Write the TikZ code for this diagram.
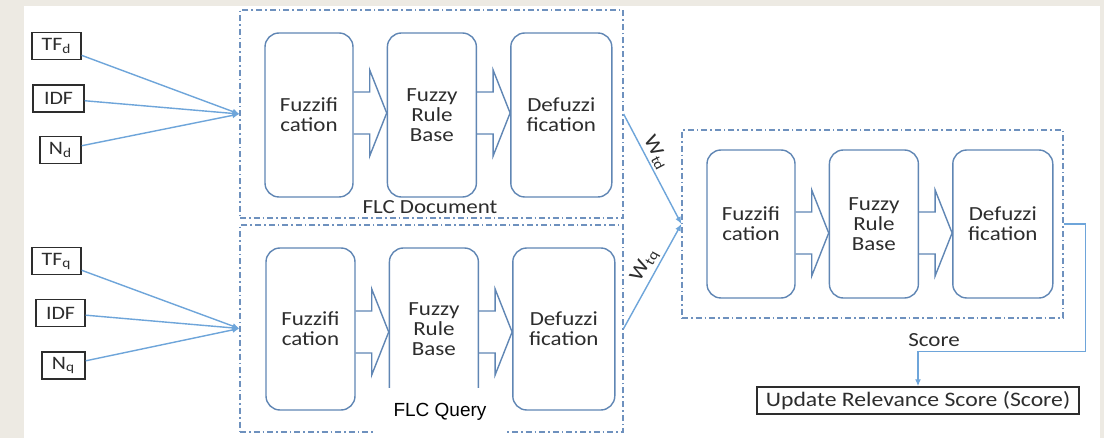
\documentclass[tikz,border=0pt]{standalone}
\usepackage{fontspec}
\setmainfont{Carlito}[FakeStretch=1.15]
\newfontfamily\queryfont{Liberation Sans}
\usetikzlibrary{positioning, arrows.meta, calc}

\definecolor{pagebeige}{RGB}{237,234,227}
\definecolor{stageblue}{RGB}{96,134,180}
\definecolor{wireblue}{RGB}{110,165,218}
\definecolor{groupblue}{RGB}{110,145,190}
\definecolor{inkgray}{RGB}{45,45,45}

% open block arrow from node #1 to node #2, axis shifted by #3
\newcommand{\blockarr}[3]{%
  \draw[blockline] ($(#1.east)+(0,#3-21)$) -- ($(#2.west)+(-17,#3-21)$)
    -- ($(#2.west)+(-17,#3-43)$) -- ($(#2.west)+(0,#3)$)
    -- ($(#2.west)+(-17,#3+43)$) -- ($(#2.west)+(-17,#3+21)$)
    -- ($(#1.east)+(0,#3+21)$);}

\begin{document}
\begin{tikzpicture}[
    x=0.5pt, y=-0.5pt,
    node distance=16.5pt,
    stage/.style={rectangle, rounded corners=7pt, draw=stageblue, line width=0.7pt, align=center, font=\fontsize{10}{10}\selectfont, text=inkgray, inner sep=0pt},
    inputbox/.style={rectangle, draw=inkgray, line width=0.7pt, font=\fontsize{9.5}{10}\selectfont, text=inkgray, minimum height=13.5pt, inner sep=0pt},
    flcbox/.style={rectangle, draw=groupblue, line width=0.6pt, dash pattern=on 3pt off 1.5pt on 0.8pt off 1.5pt, inner sep=0pt},
    blockline/.style={draw=stageblue, line width=0.7pt},
    wire/.style={draw=wireblue, line width=0.7pt},
    arrow/.style={wire, -{Latex[length=3.5pt, width=3pt]}},
    lbl/.style={font=\fontsize{10}{10}\selectfont, text=inkgray, inner sep=1pt}
  ]
    \useasboundingbox (0,0) rectangle (1104,438);
    \fill[pagebeige] (0,0) rectangle (1104,438);
    \fill[white] (24,6) rectangle (1100,438);

    % Group frames
    \node[flcbox, minimum width=191.5pt, minimum height=104pt] (flcdoc) at (431.5,114) {};
    \node[flcbox, minimum width=191.5pt, minimum height=103.5pt] (flcqry) at (431.5,328.5) {};
    \node[flcbox, minimum width=190.5pt, minimum height=94pt] (flcres) at (872.5,224) {};

    % FLC Document
    \node[stage, minimum width=44pt, minimum height=82pt] (fuzd) at (309,115) {Fuzzifi\\cation};
    \node[stage, minimum width=44.5pt, minimum height=82pt, right=of fuzd] (ruled) {Fuzzy\\Rule\\Base};
    \node[stage, minimum width=50.5pt, minimum height=82pt, right=of ruled] (defd) {Defuzzi\\fication};
    \node[lbl] (doclbl) at (430,207) {FLC Document};

    % FLC Query
    \node[stage, minimum width=44.5pt, minimum height=81pt] (fuzq) at (310.5,329) {Fuzzifi\\cation};
    \node[stage, minimum width=44.5pt, minimum height=81pt, right=of fuzq] (ruleq) {Fuzzy\\Rule\\Base};
    \node[stage, minimum width=51pt, minimum height=81pt, right=of ruleq] (defq) {Defuzzi\\fication};

    % Final controller
    \node[stage, minimum width=44pt, minimum height=74pt] (fuzr) at (751,224) {Fuzzifi\\cation};
    \node[stage, minimum width=44.5pt, minimum height=74pt, right=of fuzr] (ruler) {Fuzzy\\Rule\\Base};
    \node[stage, minimum width=50pt, minimum height=74pt, right=of ruler] (defr) {Defuzzi\\fication};

    % Block arrows
    \blockarr{fuzd}{ruled}{-2}
    \blockarr{ruled}{defd}{-2}
    \blockarr{fuzq}{ruleq}{3}
    \blockarr{ruleq}{defq}{3}
    \blockarr{fuzr}{ruler}{9}
    \blockarr{ruler}{defr}{9}

    \node[fill=white, minimum width=67pt, minimum height=24pt, font=\queryfont\fontsize{9.5}{11}\selectfont, text=black] (qrylbl) at (440,412) {FLC Query};

    % Inputs
    \node[inputbox, minimum width=24.5pt] (tfd) at (56.5,46) {TF\textsubscript{d}};
    \node[inputbox, minimum width=25.5pt] (idfd) at (58.5,98.5) {IDF};
    \node[inputbox, minimum width=20.5pt] (nd) at (60.5,150) {N\textsubscript{d}};
    \node[inputbox, minimum width=24.5pt] (tfq) at (56.5,261) {TF\textsubscript{q}};
    \node[inputbox, minimum width=24.5pt] (idfq) at (60.5,313) {IDF};
    \node[inputbox, minimum width=21.5pt] (nq) at (63.5,365.5) {N\textsubscript{q}};

    \foreach \src in {tfd, idfd, nd}
      \draw[arrow] (\src) -- (flcdoc.west);
    \foreach \src in {tfq, idfq, nq}
      \draw[arrow] (\src) -- (flcqry.west);

    % Weights
    \draw[arrow] (flcdoc.east) -- node[lbl, pos=0.4, sloped, above] (wtd) {W\textsubscript{td}} (flcres.west);
    \draw[arrow] (flcqry.east) -- node[lbl, pos=0.55, sloped, above] (wtq) {W\textsubscript{tq}} (flcres.west);

    % Output
    \node[inputbox, minimum width=161pt, font=\fontsize{10.3}{11}\selectfont] (update) at (918,400.5) {Update Relevance Score (Score)};
    \draw[arrow] (flcres.east) -- ++(22,0) |- ([yshift=17.5pt]update.north) -- (update.north);
    \node[lbl] (score) at (934,340) {Score};
\end{tikzpicture}
\end{document}
